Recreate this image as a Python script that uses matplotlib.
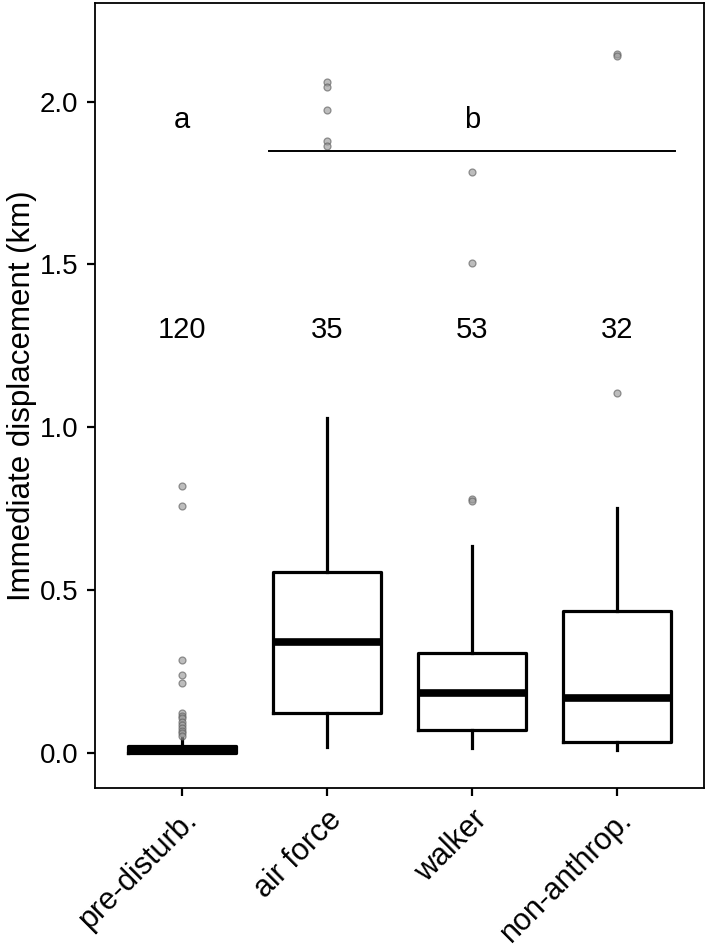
import matplotlib
matplotlib.use('Agg')
import matplotlib.pyplot as plt

# values
groups = ['pre-disturb.', 'air force', 'walker', 'non-anthrop.']
n_obs = [120, 35, 53, 32]
whislo = [0.0, 0.018, 0.015, 0.009]
q1 = [0.0, 0.123, 0.071, 0.034]
med = [0.006, 0.341, 0.184, 0.169]
q3 = [0.02, 0.556, 0.307, 0.436]
whishi = [0.045, 1.029, 0.636, 0.753]
outliers = [
    [0.818, 0.757, 0.286, 0.240, 0.213, 0.122, 0.112, 0.105, 0.095,
     0.085, 0.075, 0.068, 0.060, 0.052],
    [2.060, 2.045, 1.975, 1.880, 1.865],
    [1.785, 1.505, 0.780, 0.774],
    [2.148, 2.142, 1.106],
]
letter_a = 'a'
letter_b = 'b'

plt.rcParams['font.family'] = ['Liberation Sans', 'DejaVu Sans']

fig = plt.figure(figsize=(7.09, 9.48), dpi=100)
ax = fig.add_axes([0.134, 0.169, 0.859, 0.828])

stats = []
for i in range(len(groups)):
    stats.append(dict(label=groups[i], whislo=whislo[i], q1=q1[i], med=med[i],
                      q3=q3[i], whishi=whishi[i], fliers=outliers[i]))

pos = list(range(1, len(groups) + 1))
ax.bxp(stats, positions=pos, widths=0.75, showcaps=False, showfliers=True,
       boxprops=dict(color='black', linewidth=2.3),
       whiskerprops=dict(color='black', linewidth=2.3),
       medianprops=dict(color='black', linewidth=5.5, solid_capstyle='butt'),
       flierprops=dict(marker='o', markerfacecolor='#9a9a9a',
                       markeredgecolor='#5e5e5e', markeredgewidth=0.9,
                       markersize=5, alpha=0.65))

# sample sizes
for p, n in zip(pos, n_obs):
    ax.text(p, 1.30, str(n), ha='center', va='center', fontsize=21)

# significance groups
ax.text(1, 1.945, letter_a, ha='center', va='center', fontsize=21)
ax.text(3, 1.945, letter_b, ha='center', va='center', fontsize=21)
ax.plot([1.6, 4.4], [1.85, 1.85], color='black', linewidth=1.4)

ax.set_xlim(0.4, 4.6)
ax.set_ylim(-0.108, 2.304)
ax.set_yticks([0.0, 0.5, 1.0, 1.5, 2.0])
ax.set_yticklabels(['0.0', '0.5', '1.0', '1.5', '2.0'])
ax.set_xticks(pos)
ax.set_xticklabels(groups, rotation=45, ha='right', va='top',
                   rotation_mode='anchor')
ax.tick_params(axis='both', length=6, width=1.6, pad=6, colors='black')
ax.tick_params(axis='y', labelsize=20)
ax.tick_params(axis='x', labelsize=22)
ax.set_ylabel('Immediate displacement (km)', fontsize=22.5, labelpad=2)
for s in ax.spines.values():
    s.set_linewidth(1.3)

fig.savefig('out.png', dpi=100)
